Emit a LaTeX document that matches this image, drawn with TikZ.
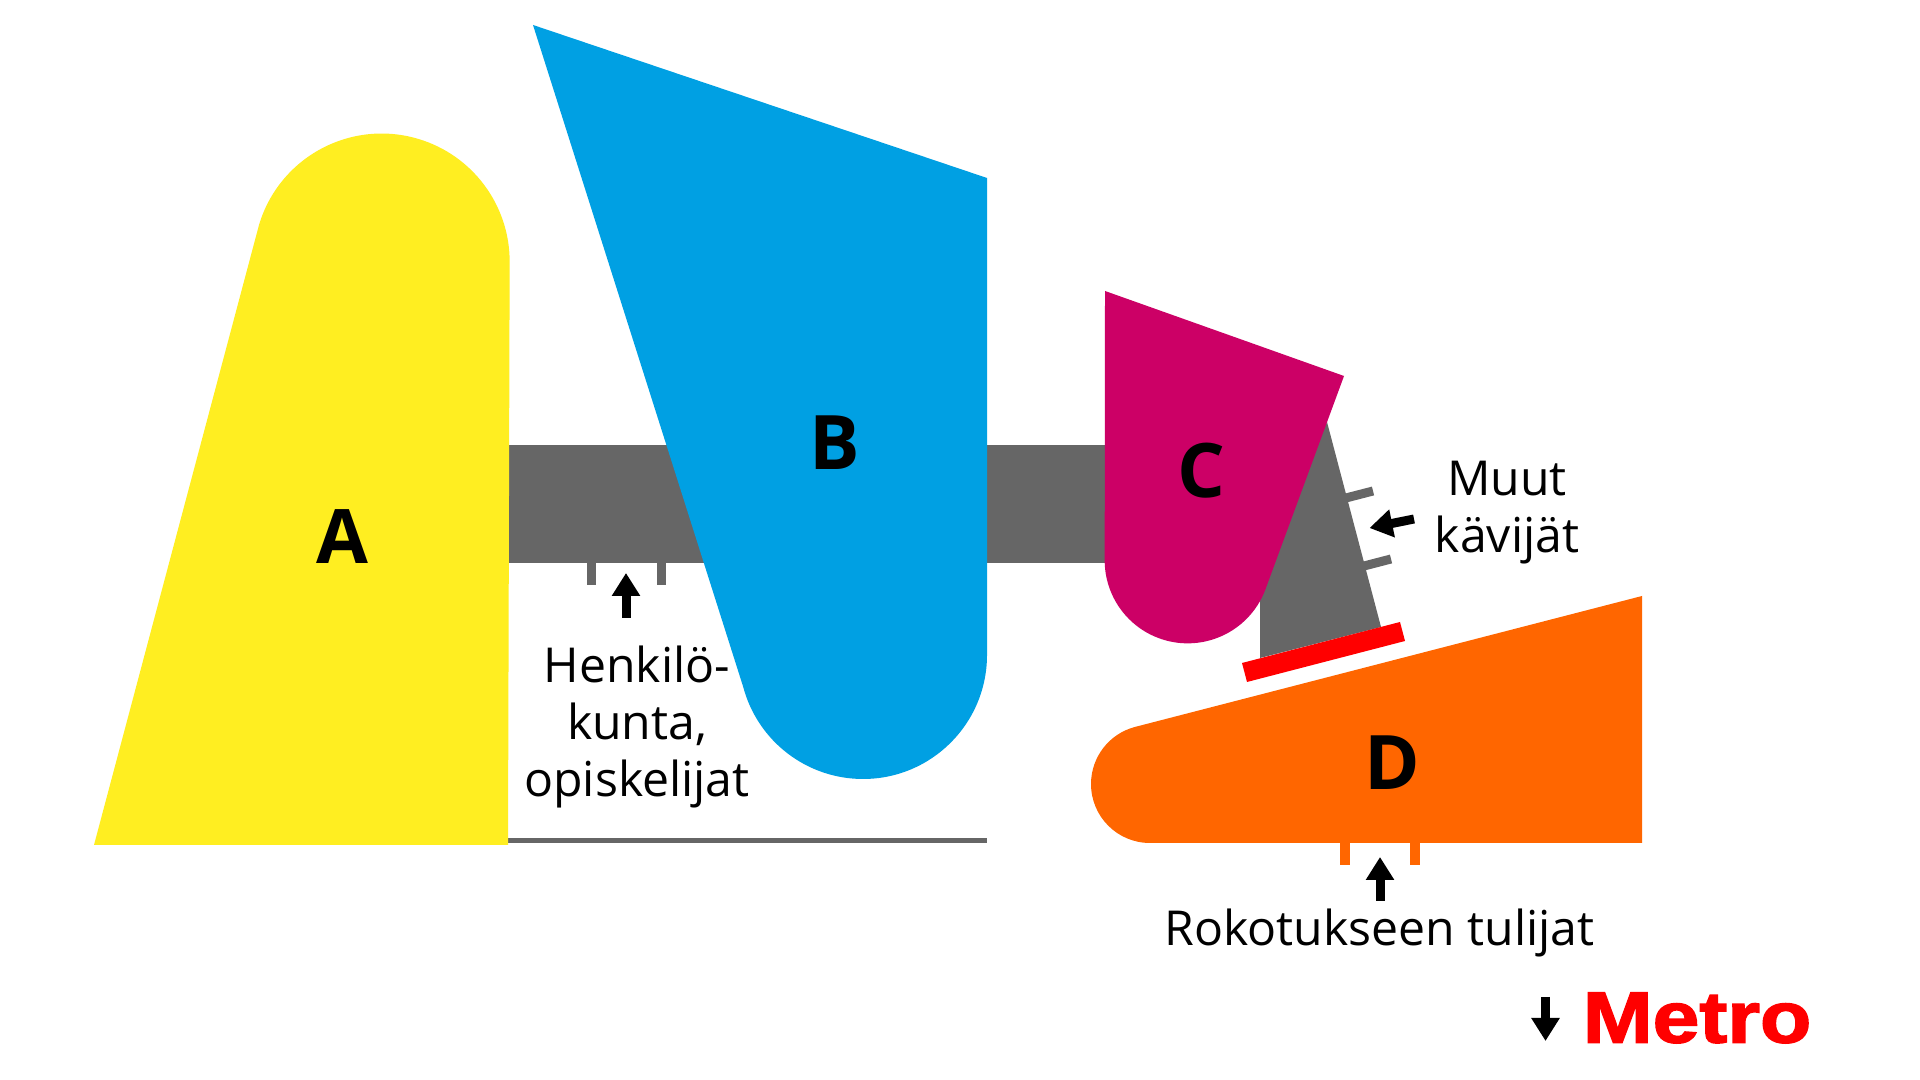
\documentclass[tikz,border=0pt]{standalone}
\usepackage{fontspec}
\setmainfont{Open Sans}
\newfontfamily\metrofont[FakeBold=2.2,FakeStretch=1.16]{Liberation Sans Bold}
\usetikzlibrary{arrows.meta}
\definecolor{keltainen}{HTML}{FFEE21}
\definecolor{sininen}{HTML}{00A0E3}
\definecolor{purppura}{HTML}{CC0066}
\definecolor{oranssi}{HTML}{FF6600}
\definecolor{harmaa}{HTML}{666666}
\tikzset{>={Triangle[length=.23cm,width=.27cm]}}
\tikzset{ovi/.style={line width=.09cm}}
\tikzset{nuoli/.style={->,line width=.09cm}}
\tikzset{talo/.style={font=\bfseries\fontsize{21.4}{24}\selectfont}}
\tikzset{teksti/.style={align=center,font=\fontsize{13.7}{16.25}\selectfont}}
\begin{document}
\begin{tikzpicture}
\useasboundingbox (0,0) rectangle (19.2,10.8);
\fill [white] (0,0) rectangle (19.2,10.8);
\fill [harmaa] (5.08,2.37) rectangle (9.87,2.42);
\fill [harmaa] (5.08,5.17) rectangle (11.05,6.35);
\fill [harmaa] (13.27,6.58) -- (13.81,4.53) -- (12.6,4.22) -- (12.6,5.2) -- cycle;
\draw [harmaa,ovi] (5.91,5.17) -- (5.91,4.95);
\draw [harmaa,ovi] (6.61,5.17) -- (6.61,4.95);
\draw [harmaa,ovi] (13.44,5.815) -- (13.73,5.89);
\draw [harmaa,ovi] (13.64,5.14) -- (13.91,5.21);
\fill [keltainen] (0.94,2.35) -- (2.59,8.55) arc (163.4:0:1.28) -- (5.08,2.35) -- cycle;
\fill [sininen] (5.33,10.55) -- (9.87,9.02) -- (9.87,4.25) arc (0:-165.2:1.24) -- cycle;
\fill [purppura] (11.05,7.89) -- (13.44,7.04) -- (12.65,4.895) arc (-21.3:-180:.83) -- cycle;
\fill [oranssi] (16.42,4.84) -- (16.42,2.37) -- (11.5,2.37) arc (270:105:.59) -- cycle;
\fill [red] (14,4.58) -- (14.05,4.39) -- (12.47,3.98) -- (12.42,4.17) -- cycle;
\draw [oranssi,line width=.1cm] (13.45,2.37) -- (13.45,2.15);
\draw [oranssi,line width=.1cm] (14.15,2.37) -- (14.15,2.15);
\node [talo] (a) at (3.42,5.43) {A};
\node [talo] (b) at (8.35,6.375) {B};
\node [talo] (c) at (12.01,6.09) {C};
\node [talo] (d) at (13.92,3.17) {D};
\node [teksti] (henkilo) at (6.37,3.53) {Henkilö-\\kunta,\\opiskelijat};
\node [teksti] (muut) at (15.07,5.67) {Muut\\kävijät};
\node [teksti,anchor=base] (rokotus) at (13.795,1.345) {Rokotukseen tulijat};
\node [anchor=base,text=red,font=\metrofont\fontsize{20.6}{24}\selectfont] (metro) at (16.97,.375) {Metro};
\coordinate (h1) at (6.26,4.62);
\coordinate (h2) at (6.26,5.07);
\coordinate (m1) at (14.14,5.61);
\coordinate (m2) at (13.695,5.52);
\coordinate (r1) at (13.8,1.79);
\coordinate (r2) at (13.8,2.23);
\coordinate (v1) at (15.455,.83);
\coordinate (v2) at (15.455,.39);
\draw [nuoli] (h1) -- (h2);
\draw [nuoli] (m1) -- (m2);
\draw [nuoli] (r1) -- (r2);
\draw [nuoli] (v1) -- (v2);
\end{tikzpicture}
\end{document}
